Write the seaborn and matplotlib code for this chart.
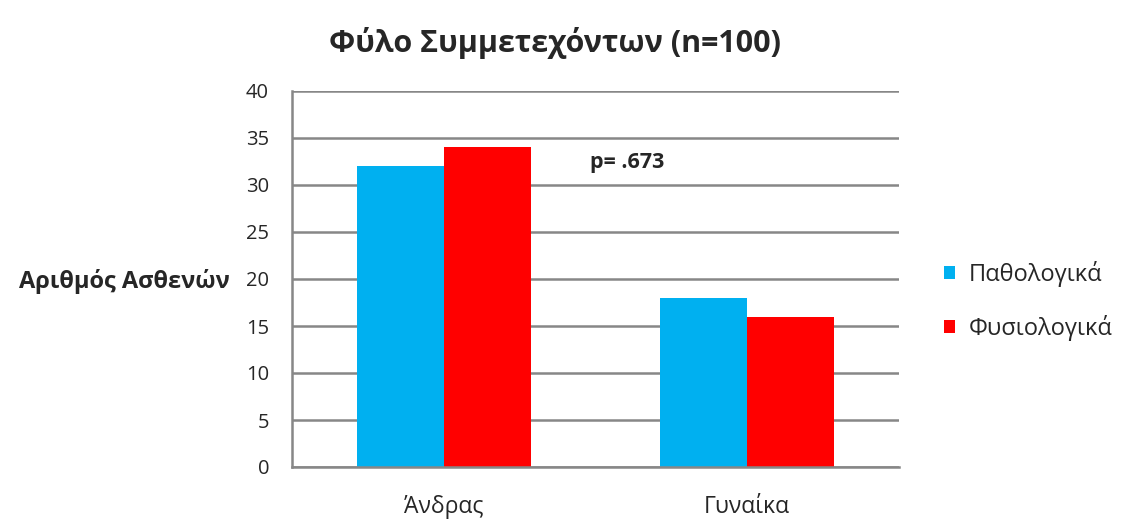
import pandas as pd
import seaborn as sns
import matplotlib.pyplot as plt

# chart values
categories = ['Άνδρας', 'Γυναίκα']
groups = ['Παθολογικά', 'Φυσιολογικά']
pathologika = [32, 18]
fysiologika = [34, 16]
colors = ['#00B0F0', '#FF0000']

data = pd.DataFrame({
    'Φύλο': categories * 2,
    'Ομάδα': [groups[0]] * len(categories) + [groups[1]] * len(categories),
    'Αριθμός': pathologika + fysiologika,
})

sns.set_style('white')
plt.rcParams['font.family'] = ['Open Sans', 'DejaVu Sans']

fig = plt.figure(figsize=(11.33, 5.27), dpi=100)
ax = fig.add_axes([292 / 1133, 60 / 527, 607 / 1133, 376 / 527])

sns.barplot(data=data, x='Φύλο', y='Αριθμός', hue='Ομάδα', palette=colors,
            width=0.573, saturation=1, linewidth=0, ax=ax, zorder=2)

ax.set_ylim(0, 40)
ax.set_yticks(range(0, 41, 5))
ax.yaxis.grid(True, color='#878787', linewidth=1.8, zorder=0)
ax.set_axisbelow(True)
for s in ['top', 'right']:
    ax.spines[s].set_visible(False)
for s in ['left', 'bottom']:
    ax.spines[s].set_color('#878787')
    ax.spines[s].set_linewidth(1.8)
ax.tick_params(axis='y', left=False, labelsize=14.5, pad=13)
ax.tick_params(axis='x', bottom=False, labelsize=16.5, pad=17)

ax.set_xlabel('')
ax.set_ylabel('')

fig.text(555 / 1133, 1 - 52 / 527, 'Φύλο Συμμετεχόντων (n=100)', fontsize=22,
         fontweight='bold', ha='center', va='baseline')
fig.text(230 / 1133, 1 - 288 / 527, 'Αριθμός Ασθενών', fontsize=17,
         fontweight='bold', ha='right', va='baseline')
fig.text(590 / 1133, 1 - 168 / 527, 'p= .673', fontsize=15.5,
         fontweight='bold', ha='left', va='baseline')

handles, labels = ax.get_legend_handles_labels()
ax.legend(handles, labels, loc='center left',
          bbox_to_anchor=(944 / 1133, 1 - 301 / 527),
          bbox_transform=fig.transFigure, borderpad=0, borderaxespad=0,
          frameon=False, fontsize=17, handlelength=0.45, handleheight=0.45,
          handletextpad=0.6, labelspacing=1.2)

plt.savefig('out.png', dpi=100)
